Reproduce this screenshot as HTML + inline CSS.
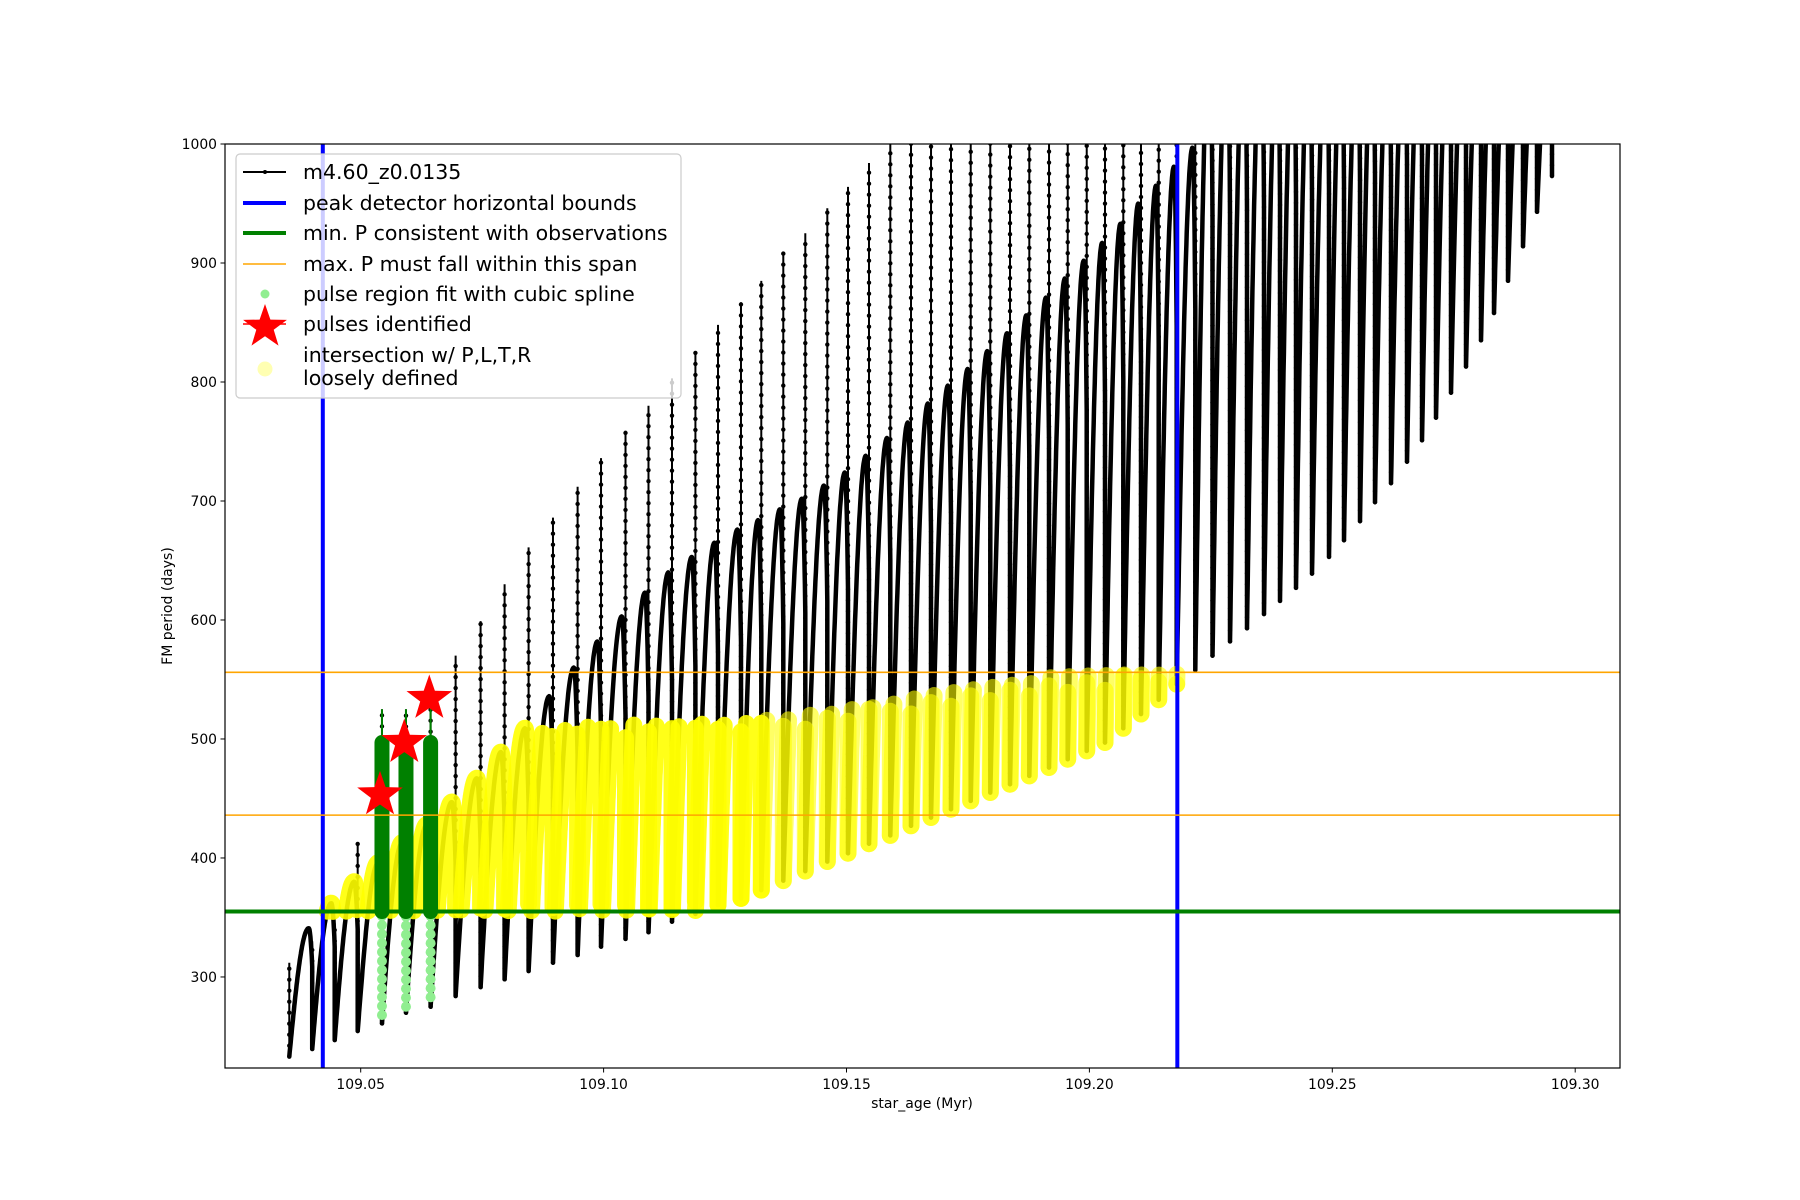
<!DOCTYPE html>
<html><head><meta charset="utf-8"><style>
html,body{margin:0;padding:0;background:#fff;}
svg{display:block;font-family:"DejaVu Sans","Liberation Sans",sans-serif;}
</style></head><body>
<svg id="chart" width="1800" height="1200" viewBox="0 0 1800 1200" xmlns="http://www.w3.org/2000/svg">
<defs><clipPath id="plotclip"><rect x="225" y="144" width="1395" height="924"/></clipPath></defs>
<rect x="0" y="0" width="1800" height="1200" fill="#fff"/>
<g id="plot" clip-path="url(#plotclip)"></g>
<rect x="225" y="144" width="1395" height="924" fill="none" stroke="#000" stroke-width="1.2"/>
<g id="axes"></g>
<text x="922" y="1108" font-size="14" text-anchor="middle">star_age (Myr)</text>
<text x="172" y="606" font-size="14" text-anchor="middle" transform="rotate(-90 172 606)">FM period (days)</text>
<g>
<rect x="236" y="154" width="445" height="244" rx="4" fill="#fff" fill-opacity="0.8" stroke="#ccc" stroke-width="1.2"/>
<g><line x1="243" y1="172" x2="286" y2="172" stroke="#000" stroke-width="2"/><circle cx="265" cy="172" r="2" fill="#000"/><text x="303" y="179" font-size="20.5">m4.60_z0.0135</text></g>
<g><line x1="243" y1="203" x2="286" y2="203" stroke="#00f" stroke-width="4"/><text x="303" y="210" font-size="20.5">peak detector horizontal bounds</text></g>
<g><line x1="243" y1="233" x2="286" y2="233" stroke="#008000" stroke-width="4"/><text x="303" y="240" font-size="20.5">min. P consistent with observations</text></g>
<g><line x1="243" y1="264" x2="286" y2="264" stroke="#ffa500" stroke-width="1.6"/><text x="303" y="271" font-size="20.5">max. P must fall within this span</text></g>
<g><circle cx="265" cy="294" r="4.5" fill="#90ee90"/><text x="303" y="301" font-size="20.5">pulse region fit with cubic spline</text></g>
<g><line x1="243" y1="324" x2="286" y2="324" stroke="#f00" stroke-width="1.5"/><polygon id="legstar" fill="#f00"/><text x="303" y="331" font-size="20.5">pulses identified</text></g>
<g><circle cx="265" cy="369" r="7.5" fill="#ffff00" fill-opacity="0.3"/><text x="303" y="362" font-size="20.5">intersection w/ P,L,T,R</text><text x="303" y="385" font-size="20.5">loosely defined</text></g>
</g>
</svg>
<script>
// ---- data ----
const pulseAges = [109.03530,109.04002,109.04465,109.04938,109.05438,109.05932,109.06439,109.06954,109.07468,109.07962,
109.08456,109.08958,109.09465,109.09947,109.10451,109.10924,109.11408,109.11890,109.12355,109.12828,
109.13246,109.13699,109.14152,109.14605,109.15031,109.15463,109.15902,109.16328,109.16740,109.17151,
109.17557,109.17960,109.18366,109.18763,109.19169,109.19554,109.19945,109.20321,109.20698,109.21062,
109.21427,109.21797,109.22180,109.22534,109.22895,109.23244,109.23594,109.23924,109.24253,109.24583,
109.24933,109.25241,109.25571,109.25879,109.26209,109.26538,109.26847,109.27135,109.27444,109.27753,
109.28061,109.28329,109.28617,109.28926,109.29214,109.29522];
const pulseMinP = [233,239.5,247,254.6,261,270,275,284,291.5,298,305,312,318.5,325.5,332,337.6,346.5,353,360.5,366,
373,381,389,397,404,412,419,427,434,441,448,455,462,469,476,483,490,497,509,521,533,546,558,570,582,593,605,616,627,
639,653,667,683,699,715,733,751,770,791,813,835,858,885,914,943,973];
const spikeTopP = [312,330,345,413,525,525,545,570,599,630,661,686,712,736,759,780,803,826,848,867,885,908,925,946,964,984,
1100,1100,1100,1100,1100,1100,1100,1100,1100,1100,1100,1100,1100,1100,1100,1100,1100,1100,1100,1100,1100,1100,1100,1100,
1100,1100,1100,1100,1100,1100,1100,1100,1100,1100,1100,1100,1100,1100,1100,1100];
const cyclePeakP = [341,362,380,396,413,428,447,467,489,509,536,560,582,603,623,640,653,665,676,684,693,702,713,724,738,753,
766,782,797,811,826,841,856,871,887,902,917,933,950,965,981,997,1100,1100,1100,1100,1100,1100,1100,1100,1100,1100,1100,1100,
1100,1100,1100,1100,1100,1100,1100,1100,1100,1100,1100];
const yellowTopP = [0,362,380,396,413,428,447,467,489,509,505,508,510,510,512,512,512,513,514,515,516,518,520,522,525,528,
531,534,537,540,543,546,548,550,552,554,555,556,556,556,556,556];
const boundAges = [109.0422,109.2181];
const minPLine = [355];
const maxPSpan = [436,556];
const greenAges = [109.05438,109.05932,109.06439];
const greenLowP = [268,275,283];
const greenHighP = [497,497,497];
const greenSpikeP = [525,525,530];
const starAges = [109.05397,109.05897,109.06412];
const starP = [453,497,534];
const xTicks = [109.05,109.10,109.15,109.20,109.25,109.30];
const xTickLabels = ["109.05","109.10","109.15","109.20","109.25","109.30"];
const yTicks = [300,400,500,600,700,800,900,1000];
const yTickLabels = ["300","400","500","600","700","800","900","1000"];

// ---- scales ----
const XMIN = 109.022067, XMAX = 109.309222, YMIN = 223.5, YMAX = 1000;
const L=225, R=1620, T=144, B=1068;
function xs(a){return L+(a-XMIN)/(XMAX-XMIN)*(R-L);}
function ys(p){return T+(YMAX-p)/(YMAX-YMIN)*(B-T);}
const NS="http://www.w3.org/2000/svg";
function mk(tag,attrs,parent){const e=document.createElementNS(NS,tag);for(const k in attrs)e.setAttribute(k,attrs[k]);parent.appendChild(e);return e;}
const plot=document.getElementById('plot');
const axes=document.getElementById('axes');
function shape(f){ if(f<=0.85) return Math.sin(Math.PI/2*f/0.85); const u=(f-0.85)/0.15; return 1-0.3*u*u; }

// black model curve
const blackG=mk('g',{},plot);


let pts=[];
for(let i=0;i<pulseAges.length-1;i++){
  const t0=pulseAges[i],t1=pulseAges[i+1],mn=pulseMinP[i],pk=cyclePeakP[i];
  pts.push([t0,mn]);
  for(let f=0.02;f<=1.0001;f+=0.02){pts.push([t0+(t1-t0)*f, mn+(pk-mn)*shape(Math.min(f,1))]);}
  pts.push([t1,pulseMinP[i+1]]);
}
const pl=mk('polyline',{points:pts.map(p=>xs(p[0]).toFixed(1)+','+ys(p[1]).toFixed(1)).join(' '),fill:'none',stroke:'#000','stroke-width':4.5,'stroke-linejoin':'round'},blackG);


for(let i=0;i<pulseAges.length;i++){
  const x=xs(pulseAges[i]),y0=ys(pulseMinP[i]),y1=ys(spikeTopP[i]);
  const sp=mk('line',{x1:x,y1:y0,x2:x,y2:y1,stroke:'#000','stroke-width':2},blackG);
  
  
  for(let y=y0;y>=Math.max(y1,140);y-=11){mk('circle',{cx:x,cy:y,r:2.2,fill:'#000'},blackG);}
}

// yellow intersection regions
for(let i=1;i<yellowTopP.length;i++){
  const t0=pulseAges[i],t1=pulseAges[i+1],mn=pulseMinP[i],pk=cyclePeakP[i];
  const lo=Math.max(minPLine[0],0),hi=yellowTopP[i];
  const g=mk('g',{opacity: i<20?0.9:0.6},plot);
  
  
  let seg=[];const segs=[];
  const cp=[];
  for(let f=0;f<=1.0001;f+=0.005){cp.push([t0+(t1-t0)*f, mn+(pk-mn)*shape(Math.min(f,1))]);}
  const endV=cp[cp.length-1][1];
  for(let k=1;k<=20;k++){cp.push([t1,endV+(pulseMinP[i+1]-endV)*k/20]);}
  cp.forEach(p=>{
    const ok=p[0]>=boundAges[0]&&p[0]<=boundAges[1]&&p[1]>=lo&&p[1]<=hi;
    if(ok)seg.push(p);else if(seg.length){segs.push(seg);seg=[];}
  });
  if(seg.length)segs.push(seg);
  segs.forEach(s=>{
    if(s.length===1)s.push(s[0]);
    mk('polyline',{points:s.map(p=>xs(p[0]).toFixed(1)+','+ys(p[1]).toFixed(1)).join(' '),fill:'none',stroke:'#ffff00','stroke-width':17,'stroke-linecap':'round','stroke-linejoin':'round'},g);
  });
}

// green spline regions
for(let i=0;i<greenAges.length;i++){
  const x=xs(greenAges[i]);
  const g=mk('g',{},plot);
  
  
  for(let y=ys(greenLowP[i]);y>=ys(minPLine[0]);y-=9){mk('circle',{cx:x,cy:y,r:5,fill:'#90ee90'},g);}
  mk('line',{x1:x,y1:ys(greenHighP[i]),x2:x,y2:ys(greenSpikeP[i]),stroke:'#008000','stroke-width':2},g);
  mk('line',{x1:x,y1:ys(minPLine[0]),x2:x,y2:ys(greenHighP[i]),stroke:'#008000','stroke-width':15,'stroke-linecap':'round'},g);
}

// reference lines
boundAges.forEach(a=>{const l=mk('line',{x1:xs(a),y1:T,x2:xs(a),y2:B,stroke:'#0000ff','stroke-width':4},plot);

});
maxPSpan.forEach(p=>{const l=mk('line',{x1:L,y1:ys(p),x2:R,y2:ys(p),stroke:'#ffa500','stroke-width':1.6},plot);

});
minPLine.forEach(p=>{const l=mk('line',{x1:L,y1:ys(p),x2:R,y2:ys(p),stroke:'#008000','stroke-width':4},plot);

});

// stars
function starPts(cx,cy,ro){const ri=ro*0.4;let s=[];for(let k=0;k<10;k++){const r=k%2?ri:ro;const a=-Math.PI/2+k*Math.PI/5;s.push((cx+r*Math.cos(a)).toFixed(1)+','+(cy+r*Math.sin(a)).toFixed(1));}return s.join(' ');}
for(let i=0;i<starAges.length;i++){
  const s=mk('polygon',{points:starPts(xs(starAges[i]),ys(starP[i]),24),fill:'#f00'},plot);
  
  
}
document.getElementById('legstar').setAttribute('points',starPts(265,327,23));

// ticks
xTicks.forEach((t,i)=>{const x=xs(t);
  const tk=mk('line',{x1:x,y1:B,x2:x,y2:B+4.5,stroke:'#000','stroke-width':1},axes);
  
  
  const tx=mk('text',{x:x,y:B+21,'font-size':13.9,'text-anchor':'middle'},axes);tx.textContent=xTickLabels[i];
  
  });
yTicks.forEach((t,i)=>{const y=ys(t);
  const tk=mk('line',{x1:L-4.5,y1:y,x2:L,y2:y,stroke:'#000','stroke-width':1},axes);
  
  
  const tx=mk('text',{x:L-8,y:y+5,'font-size':13.9,'text-anchor':'end'},axes);tx.textContent=yTickLabels[i];
  
  });
</script>
</body></html>
